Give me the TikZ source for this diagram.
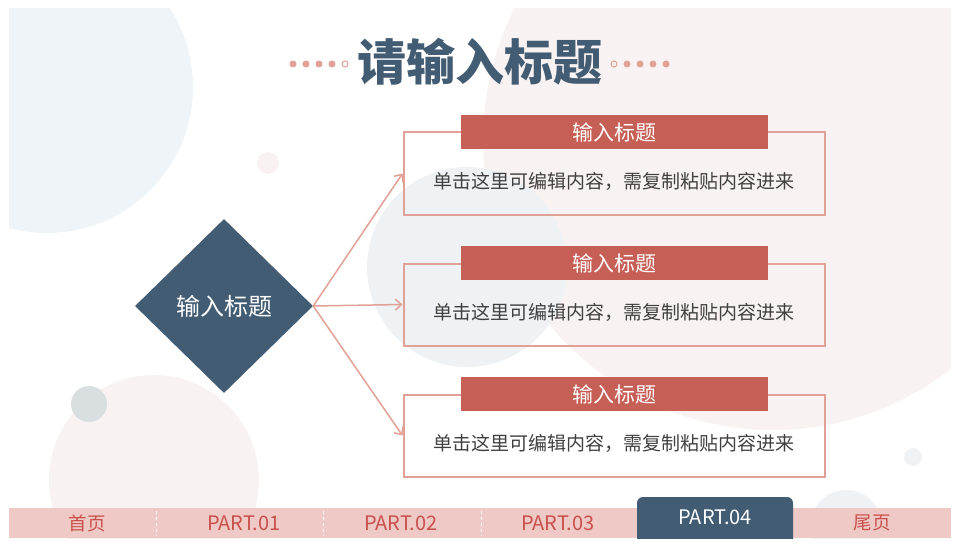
\documentclass[tikz,border=0pt]{standalone}
\usepackage{fontspec}
\setmainfont{Noto Sans CJK SC}
\usetikzlibrary{shapes, positioning, arrows.meta}

\definecolor{slate}{HTML}{425C73}
\definecolor{brick}{HTML}{C65F55}
\definecolor{salmon}{HTML}{E2A197}
\definecolor{rose}{HTML}{EFC9C6}
\definecolor{footred}{HTML}{C9504C}
\definecolor{mist}{HTML}{EEF4F7}
\definecolor{blush}{HTML}{F9F2F2}
\definecolor{haze}{HTML}{EEF2F4}
\definecolor{pebble}{HTML}{D9DEE1}
\definecolor{inkgray}{HTML}{404040}

\begin{document}
\begin{tikzpicture}[x=1pt, y=-1pt, >={Straight Barb[length=6pt, width=11pt]}, node distance = 157pt]
\tikzstyle{cardbox}=[draw=salmon, line width=2pt, rectangle, minimum width=421pt, minimum height=82pt]
\tikzstyle{cardhead}=[fill=brick, rectangle, minimum width=307pt, minimum height=34pt, text=white, font=\fontsize{21}{22}\selectfont]
\tikzstyle{cardtext}=[text=inkgray, font=\fontsize{19}{20}\selectfont]
\tikzstyle{link}=[->, draw=salmon, line width=1.5pt]
\tikzstyle{footlabel}=[text=footred, font=\fontsize{18.5}{19}\selectfont]
\tikzstyle{partlabel}=[text=footred, font=\fontsize{20}{21}\selectfont]

\useasboundingbox (0,0) rectangle (960,548);

\begin{scope}
\clip (9,9) rectangle (951,538);
% background circles
\fill[mist]   (47,87)   circle (146);
\fill[blush]  (773,140) circle (290);
\fill[haze]   (467,267) circle (100);
\fill[blush]  (268,163) circle (11);
\fill[blush]  (154,480) circle (105);
\fill[pebble] (89,404)  circle (18);
\fill[haze]   (913,457) circle (9);
\fill[haze]   (846,526) circle (36);

% footer
\fill[rose] (9,508) rectangle (951,538);
\foreach \x in {156, 323, 481}
  \draw[white, dashed, thin] (\x,511) -- (\x,536);
\fill[slate, rounded corners=6pt] (637,497) rectangle (793,550);
\end{scope}

\node[footlabel] (F0) at (87,523) {首页};
\node[partlabel] (F1) [right of=F0] {PART.01};
\node[partlabel] (F2) [right of=F1] {PART.02};
\node[partlabel] (F3) [right of=F2] {PART.03};
\node[footlabel] (F5) at (872,523) {尾页};
\node[partlabel, text=white] (F4) at (715,517) {PART.04};

% title
\node[text=slate, font=\fontsize{49}{50}\selectfont\bfseries] (title) at (479.5,62) {请输入标题};
\foreach \x in {293, 306, 319, 332, 627, 640, 653, 666}
  \fill[salmon] (\x,64) circle (3.5);
\foreach \x in {345, 614}
  \draw[salmon, line width=1pt] (\x,64) circle (3);

% left diamond
\node[diamond, fill=slate, minimum width=178pt, minimum height=174pt, text=white,
      font=\fontsize{24}{25}\selectfont] (D) at (224,306) {输入标题};

% cards
\foreach \i/\y in {1/173.5, 2/304.5, 3/435.5} {
  \node[cardbox] (B\i) at (614,\y) {};
  \node[cardhead] (H\i) at (614.5,\y-41.5) {输入标题};
  \node[cardtext] (T\i) at (614,\y+7.5) {单击这里可编辑内容，需复制粘贴内容进来};
  \draw[link] (D.east) -- (B\i.west);
}

\end{tikzpicture}
\end{document}
